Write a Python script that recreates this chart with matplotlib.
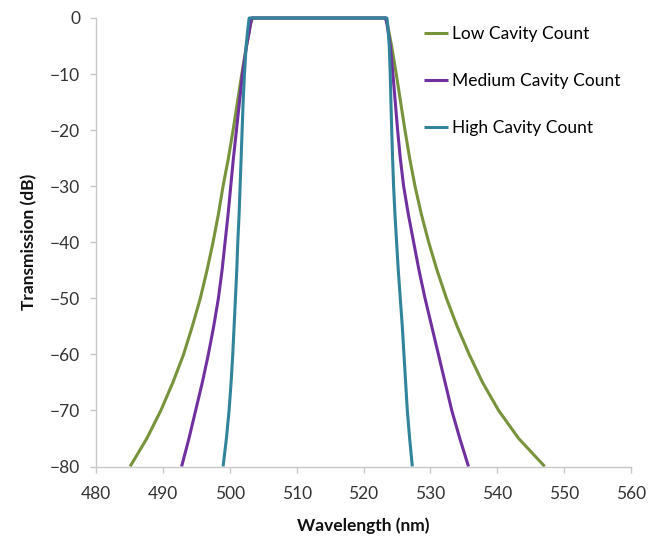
import matplotlib
matplotlib.use("Agg")
import matplotlib.pyplot as plt

plt.rcParams['font.family'] = ['Lato', 'DejaVu Sans']

# transmission levels (dB) at which the curves were read, passband edge to -80
levels = [0, -1, -2.5, -5, -10, -15, -20, -25, -30, -35, -40, -45, -50, -55, -60, -65, -70, -75, -80]

# wavelengths (nm) of each curve at those levels, short-wave side and long-wave side
low_left = [503.4, 503.15, 502.9, 502.5, 501.8, 501.15, 500.5, 499.8, 499.0, 498.3, 497.5,
            496.6, 495.6, 494.4, 493.1, 491.5, 489.7, 487.6, 485.1]
low_right = [523.3, 523.55, 523.8, 524.2, 524.9, 525.55, 526.2, 526.9, 527.7, 528.65, 529.75,
             531.0, 532.4, 534.0, 535.8, 537.8, 540.2, 543.2, 547.1]

med_left = [503.3, 503.1, 502.9, 502.5, 501.9, 501.45, 501.0, 500.55, 500.15, 499.75, 499.3,
            498.85, 498.3, 497.6, 496.8, 495.9, 494.9, 493.9, 492.8]
med_right = [523.3, 523.5, 523.7, 524.0, 524.4, 524.75, 525.1, 525.5, 526.0, 526.7, 527.5,
             528.3, 529.2, 530.2, 531.2, 532.2, 533.2, 534.4, 535.7]

high_left = [502.9, 502.8, 502.65, 502.45, 502.2, 502.0, 501.85, 501.7, 501.55, 501.4, 501.2,
             501.05, 500.85, 500.65, 500.45, 500.2, 499.9, 499.5, 499.0]
high_right = [523.5, 523.6, 523.7, 523.85, 524.0, 524.1, 524.22, 524.35, 524.5, 524.7, 524.95,
              525.2, 525.5, 525.8, 526.05, 526.3, 526.55, 526.9, 527.3]

series = [
    ("Low Cavity Count", low_left, low_right, "#77933C"),
    ("Medium Cavity Count", med_left, med_right, "#7030A0"),
    ("High Cavity Count", high_left, high_right, "#31849B"),
]

xticks = [480, 490, 500, 510, 520, 530, 540, 550, 560]
yticks = [0, -10, -20, -30, -40, -50, -60, -70, -80]

fig = plt.figure(figsize=(6.6, 5.36), dpi=100)
ax = fig.add_axes([96 / 660, 1 - 466.5 / 536, (631 - 96) / 660, (466.5 - 18) / 536])

for name, left, right, color in series:
    # go up the short-wave edge, across the flat top, down the long-wave edge
    wl = left[::-1] + right
    db = levels[::-1] + levels
    ax.plot(wl, db, color=color, lw=2.2, label=name, clip_on=False,
            solid_joinstyle='round', solid_capstyle='butt')

ax.set_xlim(480, 560)
ax.set_ylim(-80, 0)
ax.set_xticks(xticks)
ax.set_yticks(yticks)

for side in ['top', 'right']:
    ax.spines[side].set_visible(False)
for side in ['left', 'bottom']:
    ax.spines[side].set_color('#c8c8c8')
    ax.spines[side].set_linewidth(1.0)

ax.tick_params(axis='both', colors='#c8c8c8', length=4.3, width=1.0, labelsize=12.5,
               labelcolor='#333333')
ax.tick_params(axis='x', pad=10)
ax.tick_params(axis='y', pad=7)

ax.set_xlabel("Wavelength (nm)", fontsize=12.5, fontweight='bold', color='#111111', labelpad=11)
ax.set_ylabel("Transmission (dB)", fontsize=12.5, fontweight='bold', color='#111111', labelpad=9)

ax.legend(loc='upper left', bbox_to_anchor=(424 / 660, 1 - 26 / 536),
          bbox_transform=fig.transFigure, frameon=False, fontsize=12.5,
          handlelength=1.4, handletextpad=0.2, labelspacing=1.78,
          borderpad=0, borderaxespad=0)

fig.savefig("out.png", dpi=100)
